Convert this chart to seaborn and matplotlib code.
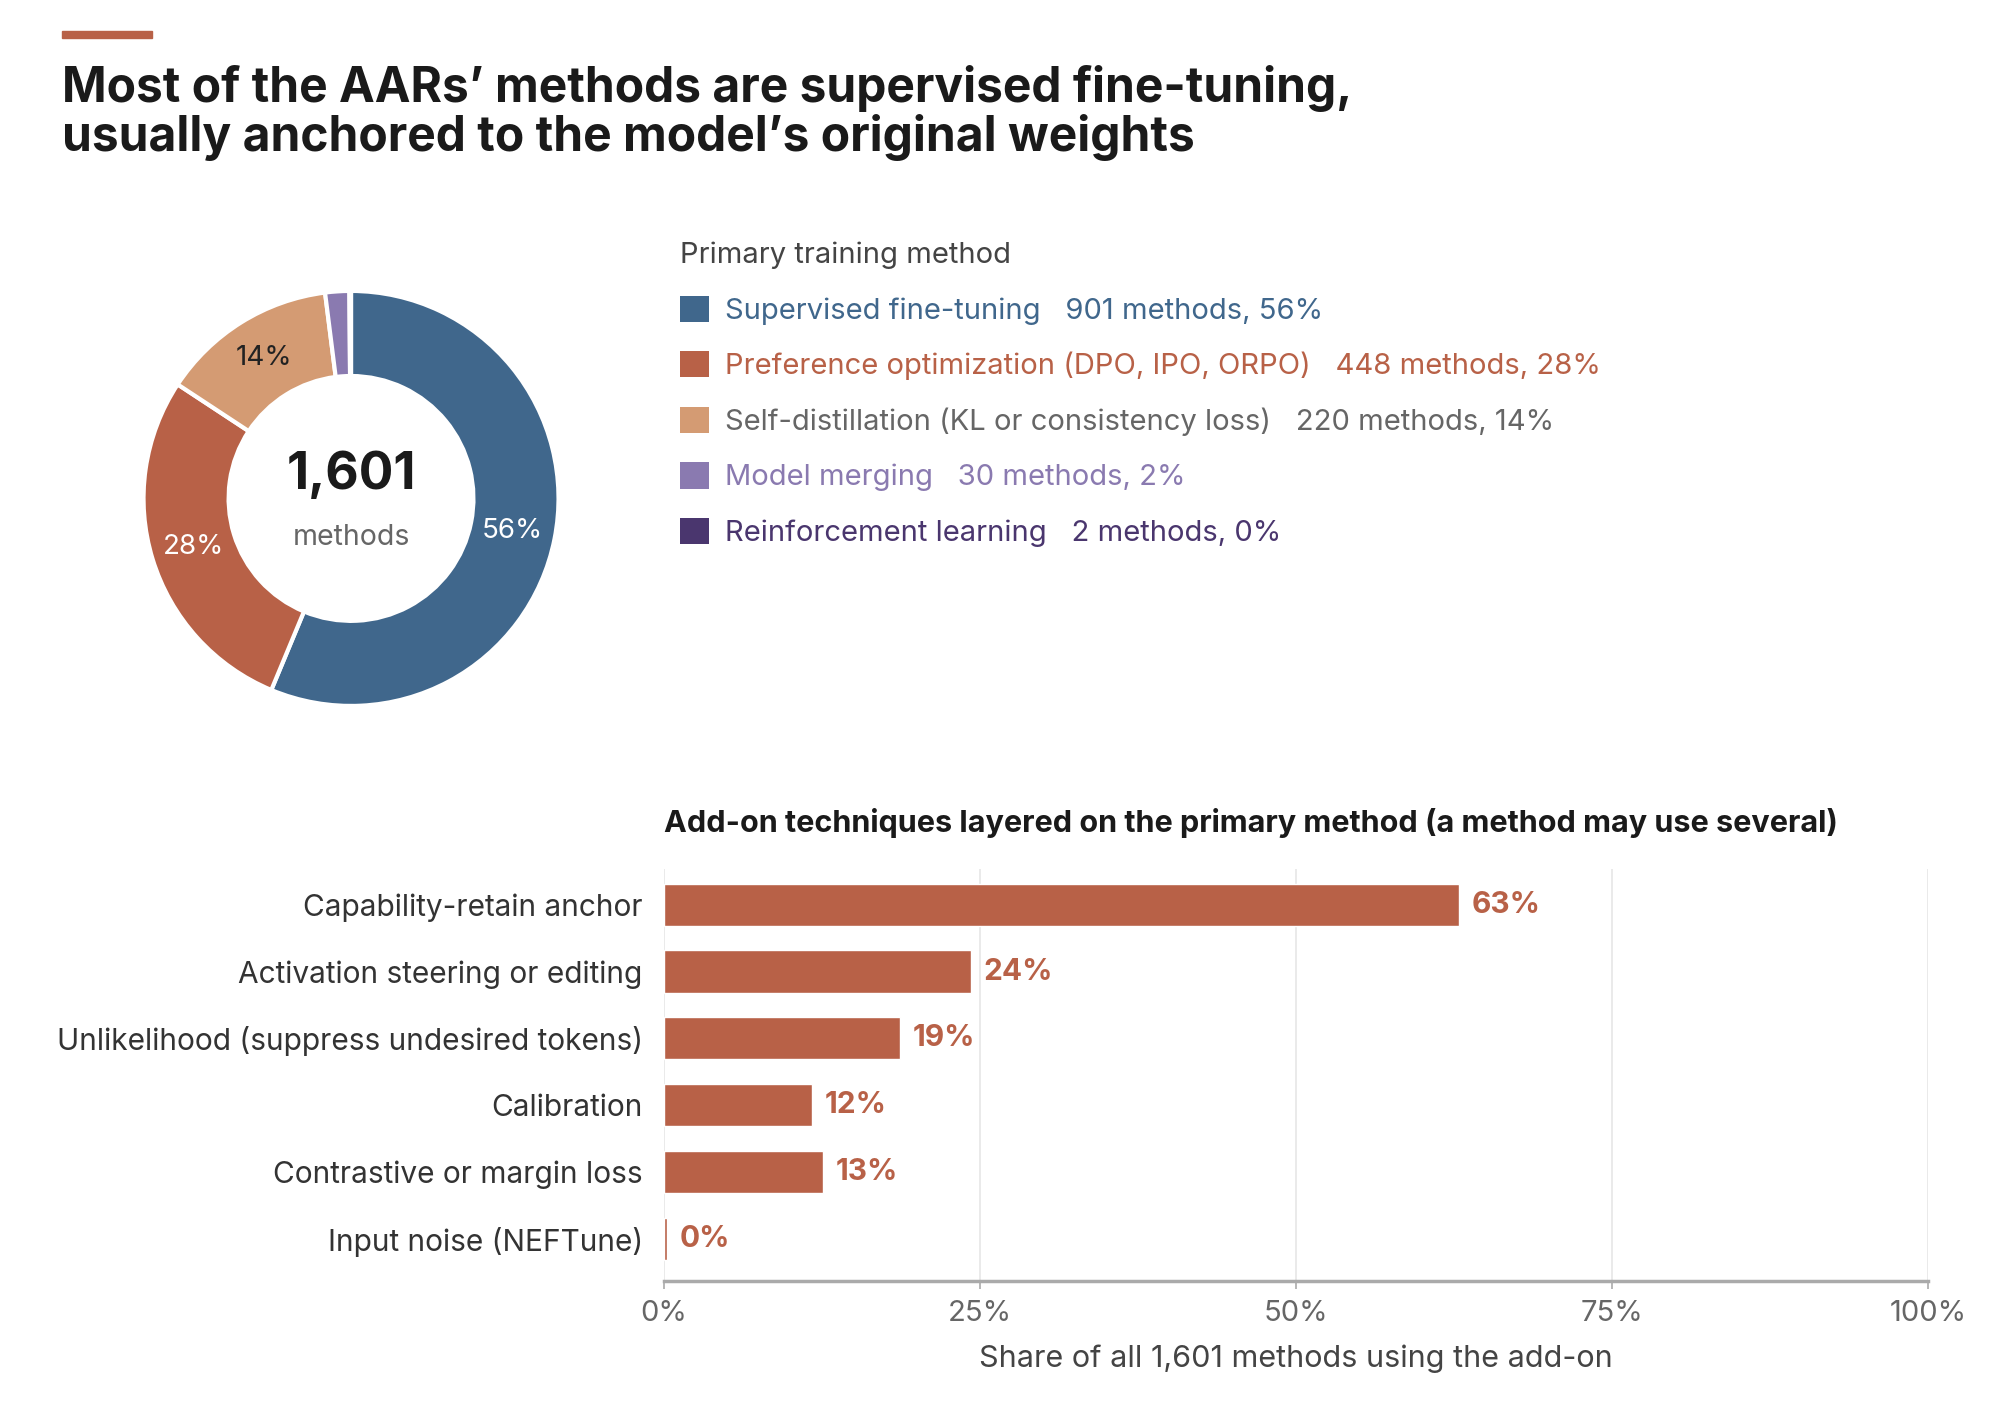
import matplotlib
matplotlib.use("Agg")
import matplotlib.pyplot as plt
import seaborn as sns
import pandas as pd
import numpy as np

# primary method split (donut)
methods = ["Supervised fine-tuning", "Preference optimization (DPO, IPO, ORPO)",
           "Self-distillation (KL or consistency loss)", "Model merging",
           "Reinforcement learning"]
method_counts = [901, 448, 220, 30, 2]
method_colors = ["#40678C", "#B86147", "#D49B73", "#8A7AB0", "#4A366E"]
method_text_colors = ["#40678C", "#B86147", "#666666", "#8A7AB0", "#4A366E"]

# add-on techniques (bars), share of all methods in %
addons = ["Capability-retain anchor", "Activation steering or editing",
          "Unlikelihood (suppress undesired tokens)", "Calibration",
          "Contrastive or margin loss", "Input noise (NEFTune)"]
addon_share = [62.9, 24.3, 18.7, 11.7, 12.6, 0.3]
x_ticks = [0, 25, 50, 75, 100]

sns.set_theme(style="white")
plt.rcParams["font.family"] = ["Inter", "DejaVu Sans"]

fig = plt.figure(figsize=(19.99, 14.13), dpi=100)
fig.patch.set_facecolor("white")

# accent bar + title
fig.patches.append(plt.Rectangle((0.031, 0.973), 0.045, 0.005, transform=fig.transFigure,
                                 color="#B86147", zorder=5))
fig.text(0.031, 0.893, "Most of the AARs\u2019 methods are supervised fine-tuning,\n"
         "usually anchored to the model\u2019s original weights",
         fontsize=34.5, fontweight="bold", color="#1a1a1a", ha="left", va="baseline",
         linespacing=1.05)

# ---- donut ----
ax_pie = fig.add_axes([0.0718, 0.5004, 0.2076, 0.2937])
total = sum(method_counts)
wedges, _ = ax_pie.pie(method_counts, colors=method_colors, startangle=90, counterclock=False,
                       radius=1.0, wedgeprops=dict(width=0.41, edgecolor="white", linewidth=3))
ax_pie.set_xlim(-1.0, 1.0)
ax_pie.set_ylim(-1.0, 1.0)
ax_pie.set_aspect("equal")
ax_pie.axis("off")

label_cols = ["white", "white", "#222222"]
for i, w in enumerate(wedges[:3]):
    ang = np.deg2rad((w.theta1 + w.theta2) / 2)
    r = 0.795
    ax_pie.text(r * np.cos(ang), r * np.sin(ang), f"{method_counts[i] / total * 100:.0f}%",
                ha="center", va="center", fontsize=20, color=label_cols[i])

ax_pie.text(0, 0.11, f"{total:,}", ha="center", va="center", fontsize=37,
            fontweight="bold", color="#1a1a1a")
ax_pie.text(0, -0.19, "methods", ha="center", va="center", fontsize=20.5, color="#666666")

legend_labels = [f"{m}   {c} methods, {c / total * 100:.0f}%" for m, c in zip(methods, method_counts)]
leg = fig.legend(wedges, legend_labels, loc="upper left", bbox_to_anchor=(0.340, 0.829),
                 frameon=False, fontsize=21, title="Primary training method",
                 title_fontsize=21, alignment="left", borderpad=0, borderaxespad=0,
                 handlelength=1.0, handleheight=1.0, handletextpad=0.55, labelspacing=0.91)
leg.get_title().set_color("#444444")
for txt, col in zip(leg.get_texts(), method_text_colors):
    txt.set_color(col)
for h in leg.legend_handles:
    h.set_edgecolor("none")

# ---- bars ----
ax = fig.add_axes([0.332, 0.0934, 0.6327, 0.2919])
df = pd.DataFrame({"addon": addons, "share": addon_share})
sns.barplot(data=df, x="share", y="addon", color="#B86147", saturation=1, width=0.63,
            ax=ax, zorder=3)
ax.set_xlim(0, 100)
ax.set_ylim(5.63, -0.54)
ax.set_xticks(x_ticks)
ax.set_xticklabels([f"{t}%" for t in x_ticks])
ax.grid(axis="x", color="#e6e6e6", linewidth=1.2, zorder=0)
ax.set_axisbelow(True)
for s in ["top", "right", "left"]:
    ax.spines[s].set_visible(False)
ax.spines["bottom"].set_color("#aaaaaa")
ax.spines["bottom"].set_linewidth(2.5)
ax.tick_params(axis="x", length=6, width=1.2, color="#aaaaaa", labelsize=21,
               labelcolor="#666666", pad=8, bottom=True)
ax.tick_params(axis="y", length=0, labelsize=21.5, labelcolor="#333333", pad=15)
ax.set_ylabel("")
ax.set_xlabel("Share of all 1,601 methods using the add-on", fontsize=22, color="#444444",
              labelpad=12)
for i, v in enumerate(addon_share):
    ax.text(v + 1.0, i, f"{v:.0f}%", va="center", ha="left", fontsize=21.5,
            fontweight="bold", color="#B86147")
ax.text(0, 1.075, "Add-on techniques layered on the primary method (a method may use several)",
        transform=ax.transAxes, ha="left", va="bottom", fontsize=22, fontweight="bold",
        color="#1a1a1a")

fig.savefig("out.png", dpi=100, facecolor="white")
